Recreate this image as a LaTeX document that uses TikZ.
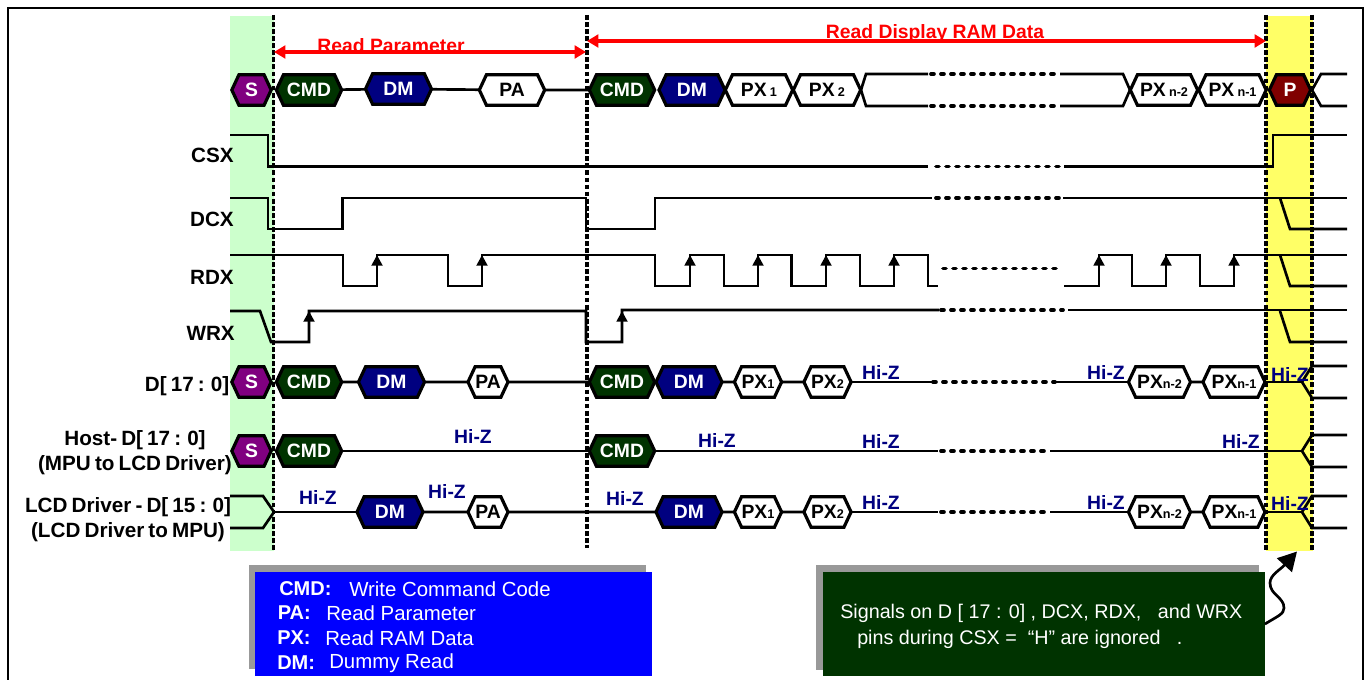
\documentclass[tikz,border=0pt]{standalone}
\usepackage{fontspec}
\setmainfont{Liberation Sans}
\usetikzlibrary{shapes.symbols,arrows.meta}

\definecolor{cmdgreen}{RGB}{0,51,0}
\definecolor{dmblue}{RGB}{0,0,128}
\definecolor{startpurple}{RGB}{128,0,128}
\definecolor{stopred}{RGB}{128,0,0}
\definecolor{startbg}{RGB}{204,255,204}
\definecolor{stopbg}{RGB}{255,255,102}
\definecolor{shade}{RGB}{153,153,153}

\newcommand{\idx}[1]{{\fontsize{9.5}{10}\selectfont #1}}
\newcommand{\tightwords}{\spaceskip=.2em\relax}

\tikzset{
  hexa/.style={signal,signal to=east and west,signal from=nowhere,signal pointer angle=130,
    draw=black,line width=2.4pt,minimum height=23pt,inner sep=0pt,outer sep=0pt,
    font=\bfseries\fontsize{14.5}{16}\selectfont},
  S/.style={hexa,fill=startpurple,text=white,minimum width=29.5pt},
  P/.style={hexa,fill=stopred,text=white,minimum width=31pt},
  CMD/.style={hexa,fill=cmdgreen,text=white,minimum width=49pt},
  DM/.style={hexa,fill=dmblue,text=white,minimum width=49.5pt},
  PA/.style={hexa,fill=white,minimum width=49pt},
  PX/.style={hexa,fill=white,minimum width=50.5pt},
  PAs/.style={hexa,fill=white,minimum width=30pt},
  PXs/.style={hexa,fill=white,minimum width=34pt},
  PXn/.style={hexa,fill=white,minimum width=46.5pt},
  wave/.style={line width=2pt},
  dots/.style={line width=2.8pt,line cap=round,dash pattern=on 2.2pt off 5.3pt},
  cut/.style={line width=2.8pt,dash pattern=on 3.6pt off 1.7pt},
  rise/.style={line width=2pt,-{Triangle[length=8pt,width=8pt]}},
  span/.style={red,line width=2.6pt,{Triangle[length=8.5pt,width=9.5pt]}-{Triangle[length=8.5pt,width=9.5pt]}},
  spanlabel/.style={red,font=\bfseries\fontsize{14.5}{16}\selectfont},
  signame/.style={anchor=east,inner sep=0pt,font=\bfseries\fontsize{15.5}{18.75}\selectfont\tightwords},
  buslabel/.style={align=center,inner sep=0pt,font=\bfseries\fontsize{15.5}{18.75}\selectfont\tightwords},
  hiz/.style={dmblue,inner sep=0pt,font=\bfseries\fontsize{14.5}{16}\selectfont},
  keyname/.style={anchor=west,inner sep=0pt,text=white,font=\bfseries\fontsize{15}{17}\selectfont},
  keytext/.style={anchor=west,inner sep=0pt,text=white,font=\fontsize{15.3}{17}\selectfont}
}

\begin{document}
\begin{tikzpicture}[x=.75pt,y=-.75pt]
  \useasboundingbox (0,0) rectangle (1365,680);

  % frame, open at the bottom
  \draw [line width=1.9pt] (8,680) -- (8,8) -- (1363,8) -- (1363,680);

  % start and stop bands
  \node [fill=startbg,inner sep=0pt,minimum width=32.7pt,minimum height=401.6pt] (startbar) at (252,283.3) {};
  \node [fill=stopbg,inner sep=0pt,minimum width=35.2pt,minimum height=401.6pt] (stopbar) at (1289.5,283.3) {};

  \foreach \x/\y [count=\n] in {273.5/550,587/548,1266/550,1312/550} {
    \coordinate (cuttop\n) at (\x,15);
    \coordinate (cutend\n) at (\x,\y);
    \draw [cut] (cuttop\n) -- (cutend\n);
  }

  % phases
  \coordinate (rpl) at (274,52);
  \coordinate (rpr) at (586,52);
  \coordinate (rdl) at (587,41);
  \coordinate (rdr) at (1266,41);
  \draw [span] (rpl) -- (rpr);
  \draw [span] (rdl) -- (rdr);
  \node [spanlabel,inner sep=0pt] (rptext) at (391,45.5) {Read Parameter};
  \node [spanlabel,inner sep=0pt] (rdtext) at (935,33.5) {Read Display RAM Data};

  % signal names
  \node [signame] (CSX) at (234,155) {CSX};
  \node [signame] (DCX) at (234,219) {DCX};
  \node [signame] (RDX) at (234,277) {RDX};
  \node [signame] (WRX) at (235,333) {WRX};
  \node [signame] (D) at (229.5,386) {D[ 17 : 0]};
  \node [buslabel] (host) at (135,453) {Host- D[ 17 : 0]\\(MPU to LCD Driver)};
  \node [buslabel] (lcd) at (128,520) {LCD Driver - D[ 15 : 0]\\(LCD Driver to MPU)};

  % control lines
  \draw [wave] (230,135) -- (268,135) -- (268,166.5) -- (928,166.5);
  \draw [wave] (1064,166.5) -- (1273,166.5) -- (1273,135) -- (1347,135);
  \draw [wave] (230,198) -- (268,198) -- (268,229) -- (342.5,229) -- (342.5,198) -- (586,198) -- (586,229) -- (655,229) -- (655,198) -- (932,198);
  \draw [wave] (1063,198) -- (1347,198);
  \draw [wave] (230,255) -- (343,255) -- (343,286) -- (377,286) -- (377,255) -- (448,255) -- (448,286) -- (482,286) -- (482,255)
    -- (655,255) -- (655,286) -- (690,286) -- (690,255) -- (724,255) -- (724,286) -- (758,286) -- (758,255) -- (791.5,255)
    -- (791.5,286) -- (826,286) -- (826,255) -- (860,255) -- (860,286) -- (894,286) -- (894,255) -- (928,255) -- (928,286) -- (938,286);
  \draw [wave] (1064,286) -- (1099,286) -- (1099,255) -- (1132,255) -- (1132,286) -- (1166,286) -- (1166,255) -- (1200,255)
    -- (1200,286) -- (1234,286) -- (1234,255) -- (1347,255);
  \draw [wave] (230,311) -- (260,311) -- (271,342) -- (309,342) -- (309,311) -- (586,311) -- (586,342) -- (622,342) -- (622,310) -- (939,310);
  \draw [wave] (1068,310) -- (1347,310);
  \foreach \x in {377,482,690,758,826,894,1099,1166,1234}
    \draw [rise] (\x,286) -- (\x,255);
  \foreach \x/\y in {309/342,622/342}
    \draw [rise] (\x,\y) -- (\x,311);
  \foreach \hi/\lo in {198/229,255/286,311/342}
    \draw [wave] (1280,\hi) -- (1290,\lo) -- (1347,\lo);

  % gaps
  \foreach \from/\to/\y in {931/1058/74,931/1058/106,936/1060/166.5,936/1061/198,943/1059/268.5,941/1063/310,933/1055/382,941/1046/451,941/1048/512}
    \draw [dots] (\from,\y) -- (\to,\y);

  % bus rows
  \draw [wave] (861,90) -- (866,74) -- (928,74);
  \draw [wave] (861,90) -- (866,106) -- (928,106);
  \draw [wave] (1060,74) -- (1123,74) -- (1130,90);
  \draw [wave] (1060,106) -- (1123,106) -- (1130,90);
  \draw [wave] (1312,90) -- (1321,74) -- (1347,74);
  \draw [wave] (1312,90) -- (1321,106) -- (1347,106);
  \draw [wave] (230,496) -- (263,496) -- (274,512) -- (263,528) -- (230,528);
  \draw [wave] (274,512) -- (357,512);
  \draw [wave] (851,382) -- (933,382);
  \draw [wave] (1055,382) -- (1128,382);
  \draw [wave] (1266,382) -- (1302,382);
  \draw [wave] (342,451) -- (589,451);
  \draw [wave] (655,451) -- (938,451);
  \draw [wave] (1050,451) -- (1302,451);
  \draw [wave] (851,512) -- (938,512);
  \draw [wave] (1050,512) -- (1128,512);
  \draw [wave] (1266,512) -- (1302,512);
  \foreach \y/\up/\dn in {382/366/398,451/435/467,512/496/528} {
    \draw [wave] (1302,\y) -- (1312,\up) -- (1347,\up);
    \draw [wave] (1302,\y) -- (1312,\dn) -- (1347,\dn);
  }

  \node [S] (S1) at (251.5,90) {S};
  \node [CMD] (C1) at (309,90) {CMD};
  \node [DM] (M1) at (398.5,89) {DM};
  \node [PA] (A1) at (512,90) {PA};
  \node [CMD] (C2) at (622,90) {CMD};
  \node [DM] (M2) at (692,90) {DM};
  \node [PX] (X1) at (759,90) {PX\,\idx{1}};
  \node [PX] (X2) at (827,90) {PX\,\idx{2}};
  \node [PX] (X3) at (1164,90) {PX\,\idx{n-2}};
  \node [PX] (X4) at (1232.5,90) {PX\,\idx{n-1}};
  \node [P] (P1) at (1290,90) {P};

  \node [S] (S2) at (251.5,382) {S};
  \node [CMD] (C3) at (309,382) {CMD};
  \node [DM] (M3) at (391.5,382) {DM};
  \node [PAs] (A2) at (488,382) {PA};
  \node [CMD] (C4) at (622,382) {CMD};
  \node [DM] (M4) at (689,382) {DM};
  \node [PXs] (X5) at (758,382) {PX\idx{1}};
  \node [PXs] (X6) at (827.5,382) {PX\idx{2}};
  \node [PXn] (X7) at (1159.5,382) {PX\idx{n-2}};
  \node [PXn] (X8) at (1234,382) {PX\idx{n-1}};

  \node [S] (S3) at (251.5,451) {S};
  \node [CMD] (C5) at (309,451) {CMD};
  \node [CMD] (C6) at (622,451) {CMD};

  \node [DM] (M5) at (390,512) {DM};
  \node [PAs] (A3) at (488,512) {PA};
  \node [DM] (M6) at (689,512) {DM};
  \node [PXs] (X9) at (758,512) {PX\idx{1}};
  \node [PXs] (X10) at (827.5,512) {PX\idx{2}};
  \node [PXn] (X11) at (1159.5,512) {PX\idx{n-2}};
  \node [PXn] (X12) at (1234,512) {PX\idx{n-1}};

  \foreach \from/\to in {C1/M1,M1/A1,A1/C2,C3/M3,M3/A2,A2/C4,M4/X5,X5/X6,X7/X8,M5/A3,A3/M6,M6/X9,X9/X10,X11/X12}
    \draw [wave] (\from) -- (\to);

  \foreach \x/\y [count=\n] in {881/372,1106/372,1290/374,473/436,717/440,881/441,1241/441,318/497,447/491,625/498,881/502,1106/502,1290/503}
    \node [hiz] (Z\n) at (\x,\y) {Hi-Z};

  % legend
  \node [fill=shade,inner sep=0pt,minimum width=297.75pt,minimum height=78pt] (keyshade) at (447.5,617) {};
  \node [fill=blue,inner sep=0pt,minimum width=297.75pt,minimum height=78pt] (key) at (453.5,624) {};
  \foreach \y/\xa/\na/\xb/\tx [count=\n] in {589/279/CMD:/349/Write Command Code,613/277.5/PA:/326/Read Parameter,638/277/PX:/325/Read RAM Data,663/277/DM:/329/Dummy Read} {
    \node [keyname] (keyname\n) at (\xa,\y) {\na};
    \node [keytext] (keytext\n) at (\xb,\y) {\tx};
  }

  % note
  \node [fill=shade,inner sep=0pt,minimum width=332.25pt,minimum height=78.75pt] (noteshade) at (1037.5,617.5) {};
  \node [fill=cmdgreen,inner sep=0pt,minimum width=331pt,minimum height=78pt] (note) at (1044,624) {};
  \node [keytext,font=\fontsize{14.8}{17}\selectfont] (noteone) at (840,613) {Signals on D [ 17 : 0] , DCX, RDX, \ \ and WRX};
  \node [keytext,font=\fontsize{14.8}{17}\selectfont] (notetwo) at (857,639) {pins during CSX = \ “H” are ignored \ \ .};
  \coordinate (notetip) at (1297,551.5);
  \draw [line width=2pt,-{Triangle[length=14pt,width=15pt]}] (note.east) .. controls (1278,616) and (1284,614) .. (1284,608)
    .. controls (1284,597) and (1270,595) .. (1270,583) .. controls (1270,575) and (1280,570) .. (notetip);
\end{tikzpicture}
\end{document}
